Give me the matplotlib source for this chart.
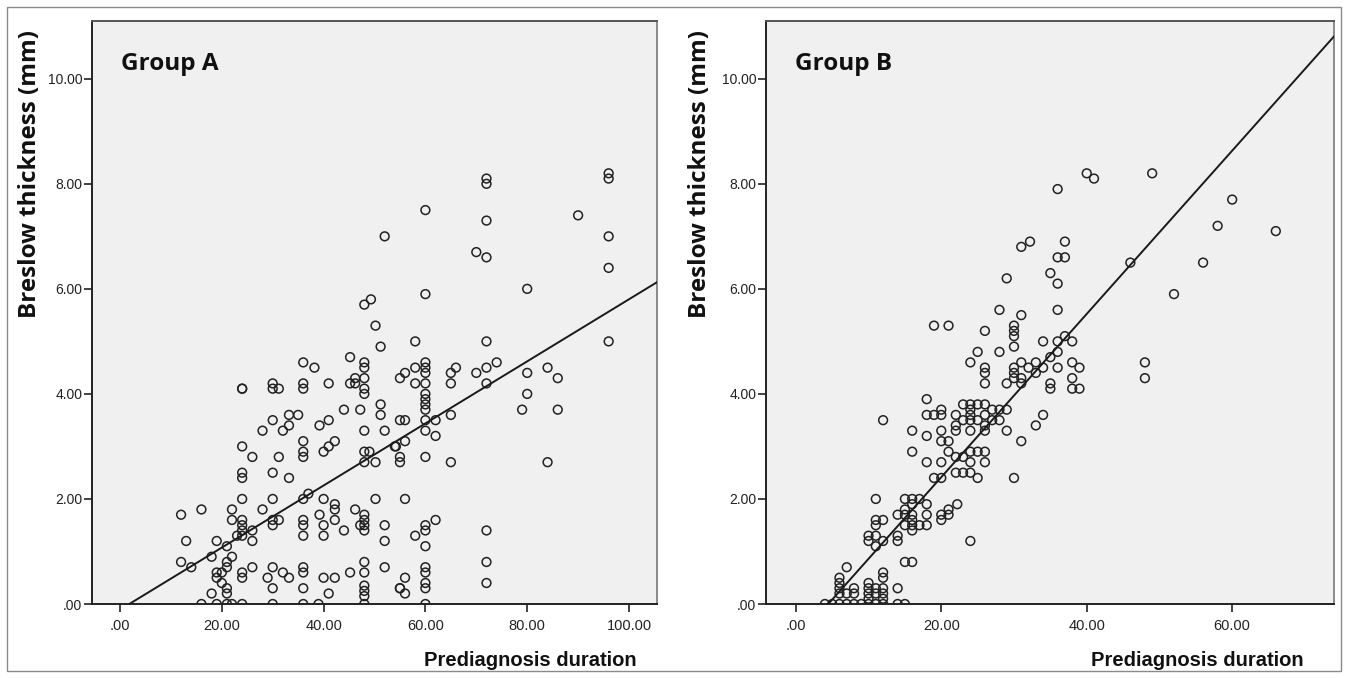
import numpy as np
import matplotlib
matplotlib.use("Agg")
import matplotlib.pyplot as plt
from matplotlib.ticker import FuncFormatter
from matplotlib.patches import Rectangle

# Group A: prediagnosis duration vs Breslow thickness
a_x = [52, 49.3, 48, 50.2, 51.2, 36, 38.2, 45.2, 48, 48, 48, 48, 48, 46.2, 45.2, 46.2, 41, 36, 36, 30, 30, 31.2, 24, 24, 55,
       51.2, 51.2, 44, 47.2, 35, 33.2, 33.2, 30, 28, 32, 39.2, 41, 48, 52, 36, 36, 36, 41, 42.2, 40, 24, 26, 31.2,
       48, 49, 48, 50.2, 54.2,
       30, 33.2, 24, 24, 24, 30, 36, 37, 40, 50.2, 42.2, 42.2, 39.2, 46.2, 48, 48, 48, 48, 47.2, 52, 36, 36, 36,
       40, 40, 42.2, 44, 30, 31.2, 30, 28, 24, 24, 24, 24, 23, 26, 26, 22, 22, 16, 12, 13, 19, 21, 18, 22,
       21, 21, 12, 14, 19, 20, 19, 20, 24, 24, 26, 30, 32, 33.2, 29, 36, 36, 36, 30, 40, 42.2, 41, 45.2,
       48, 48, 48, 48, 48, 52, 52, 55, 18, 21, 21,
       16, 19, 21, 22, 24, 30, 36, 39, 48, 60,
       72, 72, 96, 96, 60, 72, 90, 96, 70, 72, 96, 80, 60, 58, 72, 96, 60, 60, 60, 60, 60, 58, 58, 56,
       65, 66, 65, 70, 72, 72, 74, 80, 80, 84, 86,
       79, 86, 84, 60, 60, 60, 60, 60, 60, 62, 62, 65, 65, 55, 56, 56, 54, 55, 55, 56,
       60, 60, 60, 60, 60, 60, 60, 62, 58, 56, 55, 56, 72, 72, 72]
a_y = [7.0, 5.8, 5.7, 5.3, 4.9, 4.6, 4.5, 4.7, 4.6, 4.5, 4.3, 4.1, 4.0, 4.3, 4.2, 4.2, 4.2, 4.2, 4.1, 4.2, 4.1, 4.1, 4.1, 4.1, 4.3,
       3.8, 3.6, 3.7, 3.7, 3.6, 3.6, 3.4, 3.5, 3.3, 3.3, 3.4, 3.5, 3.3, 3.3, 3.1, 2.9, 2.8, 3.0, 3.1, 2.9, 3.0, 2.8, 2.8,
       2.9, 2.9, 2.7, 2.7, 3.0,
       2.5, 2.4, 2.5, 2.4, 2.0, 2.0, 2.0, 2.1, 2.0, 2.0, 1.9, 1.8, 1.7, 1.8, 1.7, 1.6, 1.5, 1.4, 1.5, 1.5, 1.6, 1.5, 1.3,
       1.5, 1.3, 1.6, 1.4, 1.6, 1.6, 1.5, 1.8, 1.6, 1.5, 1.4, 1.3, 1.3, 1.4, 1.2, 1.8, 1.6, 1.8, 1.7, 1.2, 1.2, 1.1, 0.9, 0.9,
       0.8, 0.7, 0.8, 0.7, 0.6, 0.6, 0.5, 0.4, 0.6, 0.5, 0.7, 0.7, 0.6, 0.5, 0.5, 0.7, 0.6, 0.3, 0.3, 0.5, 0.5, 0.2, 0.6,
       0.8, 0.6, 0.35, 0.25, 0.15, 0.7, 1.2, 0.3, 0.2, 0.3, 0.2,
       0, 0, 0, 0, 0, 0, 0, 0, 0, 0,
       8.1, 8.0, 8.2, 8.1, 7.5, 7.3, 7.4, 7.0, 6.7, 6.6, 6.4, 6.0, 5.9, 5.0, 5.0, 5.0, 4.6, 4.5, 4.4, 4.2, 4.0, 4.5, 4.2, 4.4,
       4.4, 4.5, 4.2, 4.4, 4.5, 4.2, 4.6, 4.4, 4.0, 4.5, 4.3,
       3.7, 3.7, 2.7, 3.9, 3.8, 3.7, 3.5, 3.3, 2.8, 3.5, 3.2, 3.6, 2.7, 3.5, 3.5, 3.1, 3.0, 2.8, 2.7, 2.0,
       1.5, 1.4, 1.1, 0.7, 0.6, 0.4, 0.3, 1.6, 1.3, 0.5, 0.3, 0.2, 1.4, 0.8, 0.4]

# Group B
b_x = [36, 40, 41, 49, 32.2, 31, 37, 36, 37, 35, 36, 29, 36, 28, 31, 19, 21, 26, 30, 30, 30, 30, 34, 36, 37, 38,
       25, 24, 28, 26, 26, 26, 29, 30, 30, 30, 31, 31, 31, 32, 33, 33, 34, 35, 36, 36, 35, 35, 38, 39, 38, 38, 39,
       48, 48, 46, 60, 58, 66, 56, 52,
       18, 20, 20, 18, 19, 12, 22, 23, 24, 25, 26, 24, 24, 24, 24, 23, 22, 22, 25, 26, 26, 26, 27, 28, 27, 28, 29, 29,
       31, 33, 34, 30, 20, 20, 21, 21, 16, 16, 18, 18, 20, 22, 23, 24, 24, 25, 26, 26, 22, 23, 24, 25, 19, 20, 24,
       22.2, 21, 21, 20, 20, 18, 18, 18, 17, 16, 15, 16, 15, 16, 15, 16, 16, 16, 15, 17, 14, 14, 14, 15, 16,
       11, 11, 12, 11, 10, 11, 10, 11, 12, 7, 6, 6, 6, 6, 8, 8, 7, 10, 10, 10, 11, 11, 10, 12, 12, 12, 12, 12, 14,
       4, 5, 6, 7, 8, 9, 10, 11, 12, 14, 15]
b_y = [7.9, 8.2, 8.1, 8.2, 6.9, 6.8, 6.9, 6.6, 6.6, 6.3, 6.1, 6.2, 5.6, 5.6, 5.5, 5.3, 5.3, 5.2, 5.3, 5.2, 5.1, 4.9, 5.0, 5.0, 5.1, 5.0,
       4.8, 4.6, 4.8, 4.5, 4.4, 4.2, 4.2, 4.5, 4.4, 4.3, 4.6, 4.3, 4.2, 4.5, 4.6, 4.4, 4.5, 4.7, 4.8, 4.5, 4.2, 4.1, 4.6, 4.5, 4.3, 4.1, 4.1,
       4.6, 4.3, 6.5, 7.7, 7.2, 7.1, 6.5, 5.9,
       3.9, 3.7, 3.6, 3.6, 3.6, 3.5, 3.6, 3.8, 3.8, 3.8, 3.8, 3.7, 3.6, 3.5, 3.3, 3.5, 3.4, 3.3, 3.5, 3.6, 3.4, 3.3, 3.7, 3.7, 3.5, 3.5, 3.7, 3.3,
       3.1, 3.4, 3.6, 2.4, 3.3, 3.1, 3.1, 2.9, 3.3, 2.9, 3.2, 2.7, 2.7, 2.8, 2.8, 2.9, 2.7, 2.9, 2.9, 2.7, 2.5, 2.5, 2.5, 2.4, 2.4, 2.4, 1.2,
       1.9, 1.8, 1.7, 1.7, 1.6, 1.9, 1.7, 1.5, 2.0, 2.0, 2.0, 1.9, 1.8, 1.7, 1.7, 1.6, 1.5, 1.4, 1.5, 1.5, 1.7, 1.3, 1.2, 0.8, 0.8,
       2.0, 1.6, 1.6, 1.5, 1.3, 1.3, 1.2, 1.1, 1.2, 0.7, 0.5, 0.4, 0.3, 0.2, 0.3, 0.2, 0.2, 0.4, 0.3, 0.2, 0.3, 0.2, 0.1, 0.6, 0.5, 0.3, 0.2, 0.1, 0.3,
       0, 0, 0, 0, 0, 0, 0, 0, 0, 0, 0]

# fitted lines (intercept, slope)
a_fit = (-0.108, 0.0591)
b_fit = (-0.693, 0.1554)

titles = ["Group A", "Group B"]
xticks_a = [0, 20, 40, 60, 80, 100]
xticks_b = [0, 20, 40, 60]
yticks = [0, 2, 4, 6, 8, 10]

plain = ["Liberation Sans", "DejaVu Sans"]
bold = ["Open Sans", "DejaVu Sans"]

W, H = 1348, 678
fig = plt.figure(figsize=(W / 100, H / 100), dpi=100)

# outer frame
fig.patches.append(Rectangle((7 / W, 7 / H), (1341 - 7) / W, (671 - 7) / H,
                             transform=fig.transFigure, fill=False,
                             edgecolor="#8a8a8a", lw=1.0))


def fmt(v, pos):
    s = "%.2f" % v
    return s[1:] if s.startswith("0") else s


panels = [
    (92, 657, a_x, a_y, a_fit, xticks_a, (-5.5, 105.5), 30, 424),
    (766, 1334, b_x, b_y, b_fit, xticks_b, (-4.1, 74.0), 700, 1091),
]
top_px, bot_px = 21, 604

for i, (l, r, xs, ys, fit, xt, xl, ylab_x, xlab_x) in enumerate(panels):
    ax = fig.add_axes([l / W, 1 - bot_px / H, (r - l) / W, (bot_px - top_px) / H])
    ax.set_facecolor("#f0f0f0")
    ax.scatter(xs, ys, s=40, facecolors="none", edgecolors="#222222", linewidths=1.1, zorder=3)
    lx = np.array(xl)
    ax.plot(lx, fit[0] + fit[1] * lx, color="#1a1a1a", lw=1.4, zorder=4)
    ax.set_xlim(*xl)
    ax.set_ylim(0, 11.1)
    ax.set_xticks(xt)
    ax.set_yticks(yticks)
    ax.xaxis.set_major_formatter(FuncFormatter(fmt))
    ax.yaxis.set_major_formatter(FuncFormatter(fmt))
    ax.tick_params(direction="out", length=6, width=1.2, color="#222222")
    ax.tick_params(axis="x", pad=5)
    ax.tick_params(axis="y", pad=1)
    for lab in ax.get_xticklabels():
        lab.set_family(plain)
        lab.set_fontsize(10.5)
        lab.set_color("#222222")
    for lab in ax.get_yticklabels():
        lab.set_family(plain)
        lab.set_fontsize(10)
        lab.set_color("#222222")
    for side in ["left", "bottom"]:
        ax.spines[side].set_color("#222222")
        ax.spines[side].set_linewidth(1.4)
    ax.spines["top"].set_color("#555555")
    ax.spines["top"].set_linewidth(1.4)
    ax.spines["right"].set_color("#8a8a8a")
    ax.spines["right"].set_linewidth(1.4)

    ax.text(0.051, 0.947, titles[i], transform=ax.transAxes, ha="left", va="top",
            fontsize=17.5, fontweight="bold", family=bold, color="#111111")

    fig.text(ylab_x / W, 1 - 174 / H, "Breslow thickness (mm)", rotation=90,
             ha="center", va="center", fontsize=17.5, fontweight="bold",
             family=bold, color="#111111")
    fig.text(xlab_x / W, 1 - 661 / H, "Prediagnosis duration", ha="left", va="center",
             fontsize=14.5, fontweight="bold", family=plain, color="#111111")

fig.savefig("out.png", dpi=100)
